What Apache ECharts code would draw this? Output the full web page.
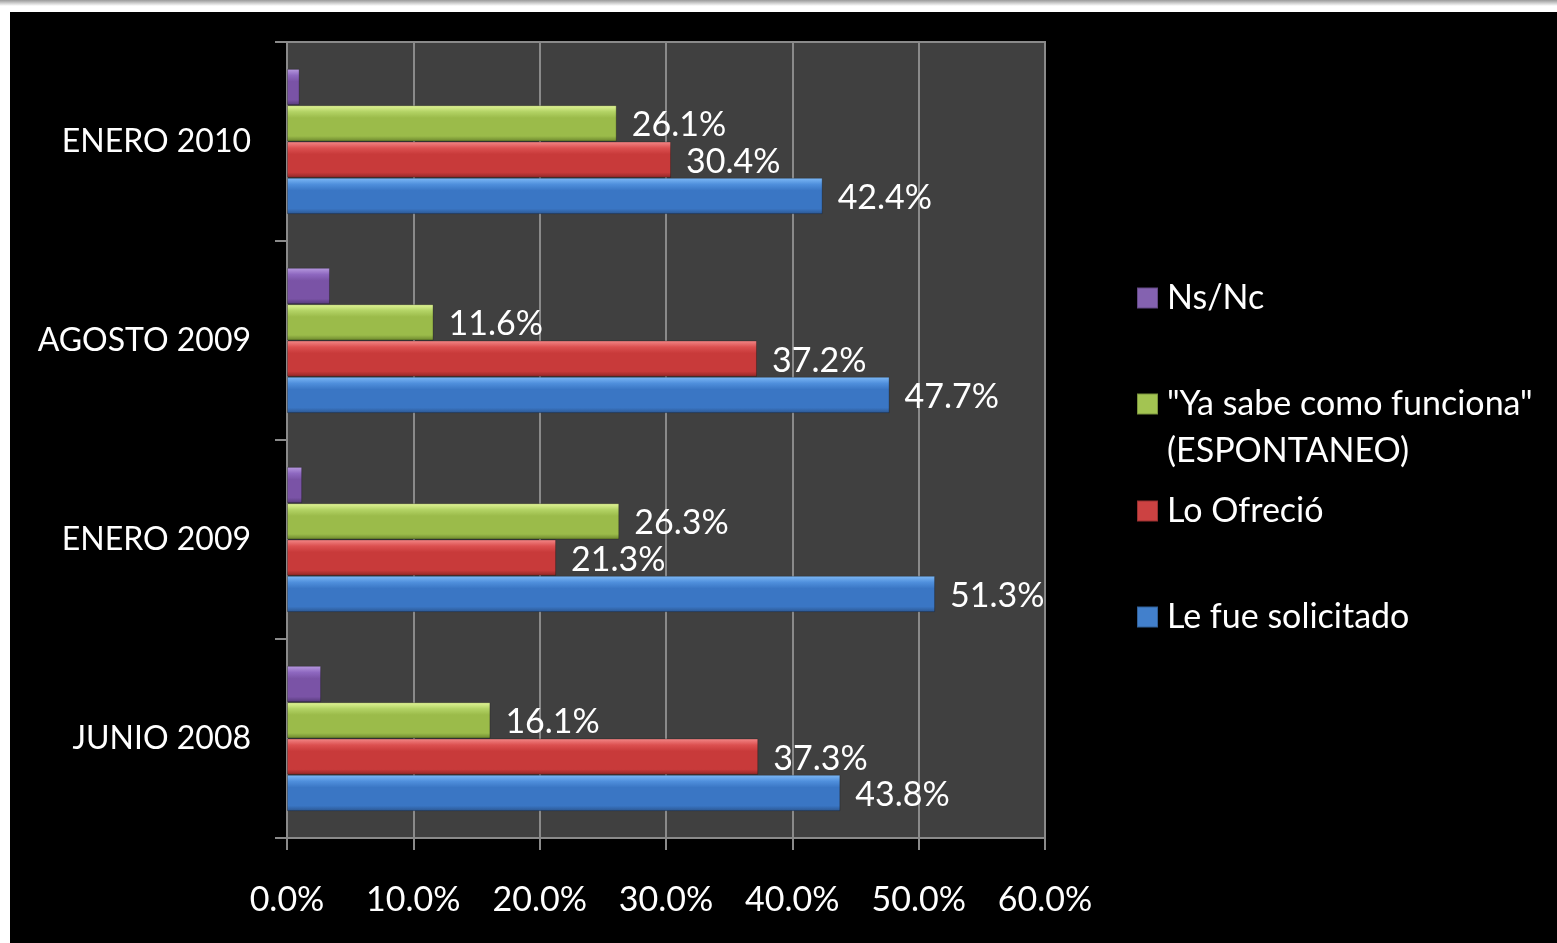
<!DOCTYPE html>
<html>
<head>
<meta charset="utf-8">
<script src="https://cdn.jsdelivr.net/npm/echarts@6/dist/echarts.min.js"></script>
<style>
  html, body { margin: 0; padding: 0; background: #ffffff; width: 1557px; height: 943px; overflow: hidden; }
  #topShade { position: absolute; left: 0; top: 0; width: 1557px; height: 6px;
    background: linear-gradient(to bottom, #9a9a9a, #ffffff); }
  #blackBox { position: absolute; left: 10px; top: 12px; width: 1547px; height: 931px; background: #000; }
  #chart { position: absolute; left: 0; top: 0; width: 1557px; height: 943px; }
</style>
</head>
<body>
<div id="topShade"></div>
<div id="blackBox"></div>
<div id="chart"></div>
<script>
// ---- Data ----
const categories = ['JUNIO 2008', 'ENERO 2009', 'AGOSTO 2009', 'ENERO 2010'];
const seriesNames = ['Ns/Nc', '"Ya sabe como funciona" (ESPONTANEO)', 'Lo Ofreció', 'Le fue solicitado'];
const nsNc = [2.7, 1.2, 3.4, 1.0];
const yaSabe = [16.1, 26.3, 11.6, 26.1];
const loOfrecio = [37.3, 21.3, 37.2, 30.4];
const leFueSolicitado = [43.8, 51.3, 47.7, 42.4];
const xTicks = [0, 10, 20, 30, 40, 50, 60];

const FONT = 'Lato';
const FS = 34;

function grad(light, mid, main, dark) {
  return new echarts.graphic.LinearGradient(0, 0, 0, 1, [
    { offset: 0, color: light },
    { offset: 0.18, color: mid },
    { offset: 0.35, color: main },
    { offset: 0.85, color: main },
    { offset: 1, color: dark }
  ]);
}
const colors = [
  grad('#b89be0', '#8e68c0', '#7a53a6', '#553a78'),
  grad('#e4f79a', '#b3d365', '#9bbb4a', '#6a842c'),
  grad('#f48a8a', '#dc5050', '#c83a3a', '#8f2626'),
  grad('#7fbaf7', '#4f8fdc', '#3a76c4', '#2b5690')
];
const legendColors = ['#8462b0', '#a3c452', '#cc4242', '#4280cc'];
const valuesList = [nsNc, yaSabe, loOfrecio, leFueSolicitado];

const series = valuesList.map((vals, i) => ({
  name: seriesNames[i],
  type: 'bar',
  data: vals,
  barGap: '0%',
  barCategoryGap: '27%',
  itemStyle: { color: colors[i], borderColor: 'rgba(0,0,0,0.25)', borderWidth: 1 },
  label: {
    show: i > 0,
    position: 'right',
    distance: 15,
    offset: [0, 2],
    color: '#ffffff',
    fontFamily: FONT,
    fontSize: FS,
    formatter: p => p.value.toFixed(1) + '%'
  }
}));

// legends: top to bottom Ns/Nc, Ya sabe, Lo Ofreció, Le fue solicitado
const legendCenters = [297, 403, 510, 616];
const legends = seriesNames.map((nm, k) => ({
  data: [{ name: nm, itemStyle: { color: legendColors[k] } }],
  left: 1136,
  top: legendCenters[k] - 16,
  padding: 0,
  orient: 'vertical',
  itemWidth: 21,
  itemHeight: 21,
  icon: 'rect',
  selectedMode: false,
  formatter: k === 1 ? '"Ya sabe como funciona"' : '{name}',
  textStyle: { color: '#ffffff', fontFamily: FONT, fontSize: FS, padding: [0, 0, 0, 4] }
}));

const option = {
  backgroundColor: 'transparent',
  animation: false,
  grid: {
    left: 287, top: 42, width: 758, height: 796,
    show: true, backgroundColor: '#404040', borderColor: '#8a8a8a', borderWidth: 2
  },
  legend: legends,
  xAxis: {
    type: 'value',
    min: xTicks[0], max: xTicks[xTicks.length - 1], interval: 10,
    axisLine: { show: true, lineStyle: { color: '#8a8a8a', width: 2 } },
    axisTick: { show: true, length: 12, lineStyle: { color: '#8a8a8a', width: 2 } },
    splitLine: { show: true, lineStyle: { color: '#8a8a8a', width: 2 } },
    axisLabel: {
      color: '#ffffff', fontFamily: FONT, fontSize: FS, margin: 45,
      formatter: v => v.toFixed(1) + '%'
    }
  },
  yAxis: {
    type: 'category',
    data: categories,
    axisLine: { show: true, lineStyle: { color: '#8a8a8a', width: 2 } },
    axisTick: { show: true, length: 12, alignWithLabel: false, lineStyle: { color: '#8a8a8a', width: 2 } },
    splitLine: { show: false },
    axisLabel: { color: '#ffffff', fontFamily: FONT, fontSize: 32, margin: 36 }
  },
  graphic: [{
    type: 'text',
    left: 1167, top: 449 - 15,
    style: { text: '(ESPONTANEO)', fill: '#ffffff', font: FS + 'px ' + FONT }
  }],
  series: series
};

const chart = echarts.init(document.getElementById('chart'), null, { renderer: 'canvas' });
chart.setOption(option);
</script>
</body>
</html>
